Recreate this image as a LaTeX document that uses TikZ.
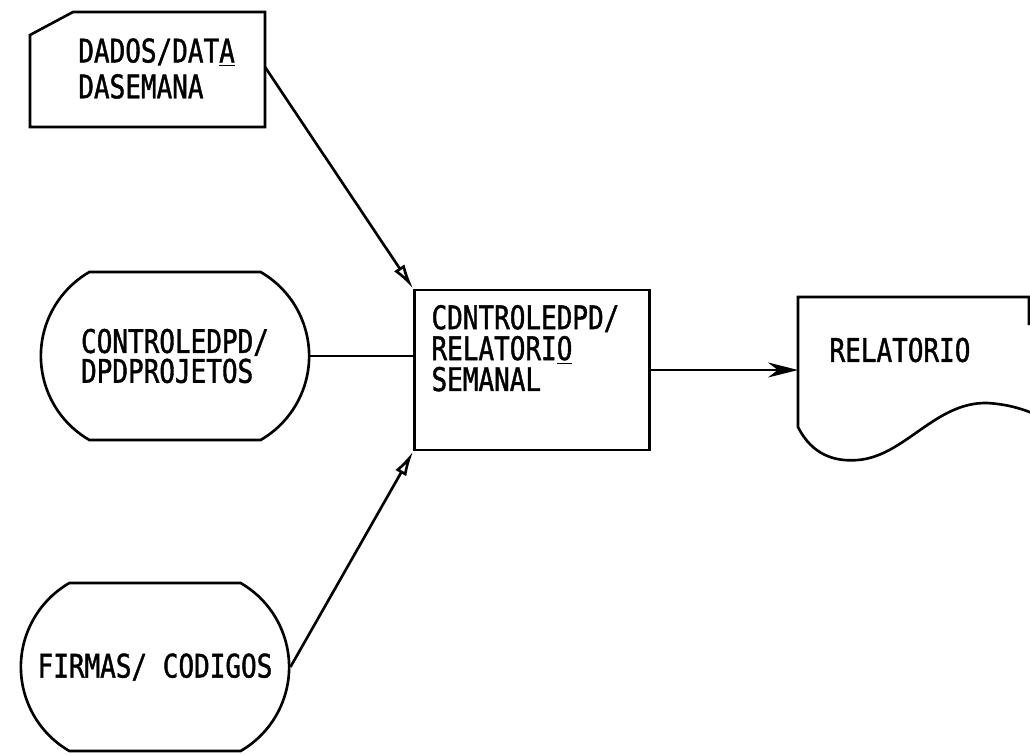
\documentclass[tikz,border=0pt]{standalone}
\usepackage{fontspec}
\usetikzlibrary{positioning,shapes.misc,arrows.meta}
\newfontfamily\typefont[FakeStretch=0.8,FakeBold=1.2]{DejaVu Sans Mono}

\begin{document}
\begin{tikzpicture}[x=0.02cm,y=-0.02cm,line width=1.5pt,
                    every node/.style={font=\typefont\fontsize{18.5pt}{17pt}\selectfont},
                    stadium/.style={rounded rectangle,rounded rectangle arc length=120,draw,
                                    minimum width=5.6cm,minimum height=3.36cm,align=left},
                    proc box/.style={rectangle,draw,minimum width=4.7cm,minimum height=3.2cm},
                    plain text/.style={align=left,inner sep=0pt}]

  \useasboundingbox (0,0) rectangle (1030,754);

  % card and document outlines
  \draw (30,127) -- (30,35) -- (73,12) -- (265,12) -- (265,127) -- cycle;
  \draw (1029,325) -- (1029,297) -- (798,297) -- (798,427)
    .. controls (812,455) and (835,462) .. (858,460)
    .. controls (905,456) and (935,402) .. (987,403)
    .. controls (1005,404) and (1020,408) .. (1032,413);

  \node[plain text,anchor=north west,font=\typefont\fontsize{18.5pt}{20.4pt}\selectfont] (dados) at (77,37) {DADOS/DAT\underline{A}\\DASEMANA};
  \node[stadium] (ctrl) at (175,356) {CONTROLEDPD/\\DPDPROJETOS};
  \node[stadium] (firm) at (155,667) {FIRMAS/ CODIGOS};
  \node[proc box] (proc) at (532,370) {};
  \node[plain text,below right=0.3cm and 0.34cm of proc.north west,
        font=\typefont\fontsize{18.5pt}{17.6pt}\selectfont] (proctext) {CDNTROLEDPD/\\RELATORI\underline{O}\\SEMANAL};
  \node (rel) at (900,350) {RELATORIO};
  \coordinate (cardout) at (265,67);
  \coordinate (relin) at (798,370);

  \path[-{Latex[open,length=0.5cm,width=0.25cm]}]
    (cardout) edge (proc.north west)
    (firm.east) edge (proc.south west);
  \path (ctrl.east) edge (ctrl.east -| proc.west);
  \path (proc.east) edge[-{Stealth[length=0.6cm,width=0.3cm]}] (relin);
\end{tikzpicture}
\end{document}
